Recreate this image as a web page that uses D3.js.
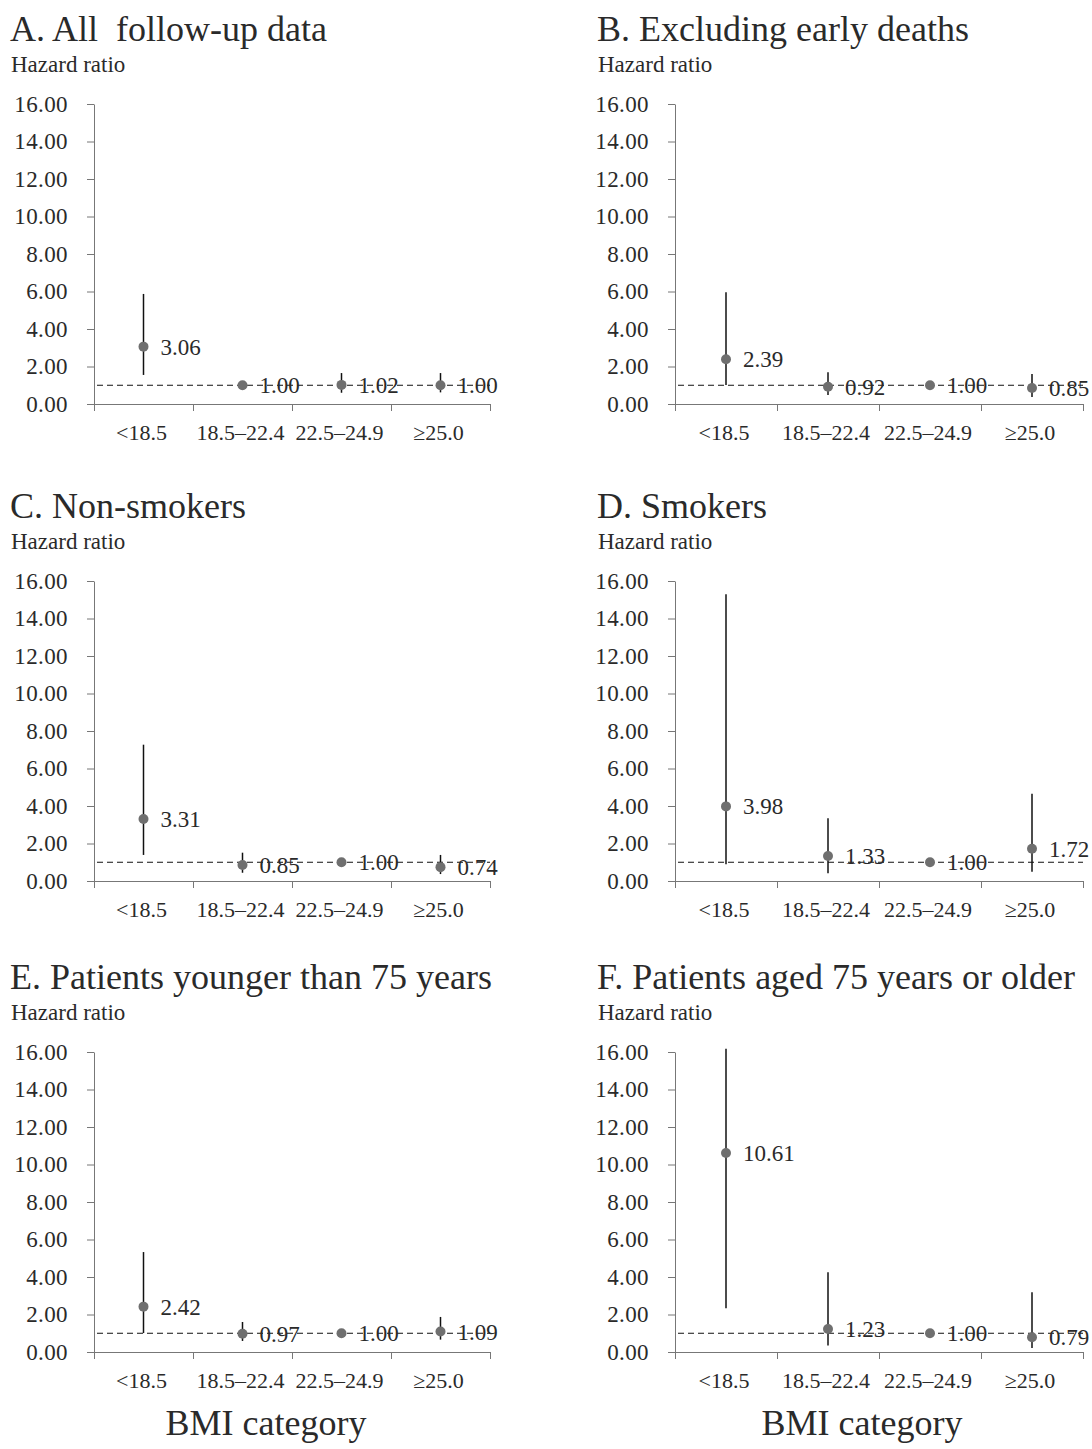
<!DOCTYPE html>
<html>
<head>
<meta charset="utf-8">
<script src="https://cdn.jsdelivr.net/npm/d3@7.9.0/dist/d3.min.js"></script>
<style>
  body { margin: 0; background: #fff; }
  svg { display: block; font-family: 'Liberation Serif', 'Times New Roman', serif; }
  .axis path, .axis line { stroke: #777; stroke-width: 1; }
  .axis text { fill: #2a2a2a; font-size: 23px; letter-spacing: 0.4px; font-family: 'Liberation Serif', serif; }
</style>
</head>
<body>
<svg id="chart" width="1092" height="1449"></svg>
<script>
const categories = ['<18.5', '18.5\u201322.4', '22.5\u201324.9', '\u226525.0'];
const yTicks = [0, 2, 4, 6, 8, 10, 12, 14, 16];

const titles = [
  'A. All  follow-up data',
  'B. Excluding early deaths',
  'C. Non-smokers',
  'D. Smokers',
  'E. Patients younger than 75 years',
  'F. Patients aged 75 years or older'
];

// hazard ratios and 95% CI per panel (null = reference, no bar)
const hrA = [3.06, 1.00, 1.02, 1.00];
const loA = [1.55, null, 0.60, 0.62];
const hiA = [5.87, null, 1.65, 1.65];

const hrB = [2.39, 0.92, 1.00, 0.85];
const loB = [1.01, 0.48, null, 0.37];
const hiB = [5.96, 1.70, null, 1.60];

const hrC = [3.31, 0.85, 1.00, 0.74];
const loC = [1.39, 0.44, null, 0.37];
const hiC = [7.27, 1.51, null, 1.39];

const hrD = [3.98, 1.33, 1.00, 1.72];
const loD = [0.89, 0.41, null, 0.50];
const hiD = [15.29, 3.35, null, 4.65];

const hrE = [2.42, 0.97, 1.00, 1.09];
const loE = [1.01, 0.59, null, 0.66];
const hiE = [5.33, 1.60, null, 1.87];

const hrF = [10.61, 1.23, 1.00, 0.79];
const loF = [2.34, 0.35, null, 0.21];
const hiF = [16.17, 4.26, null, 3.19];

const panels = [
  [hrA, loA, hiA], [hrB, loB, hiB],
  [hrC, loC, hiC], [hrD, loD, hiD],
  [hrE, loE, hiE], [hrF, loF, hiF]
];

const svg = d3.select('#chart');

// layout: two columns, three rows
const cols = [
  { textX: 10, axisX: 94, endX: 490, bmiX: 266 },
  { textX: 597, axisX: 675, endX: 1083, bmiX: 862 }
];
const rowTops = [0, 477, 948];

panels.forEach(([hr, lo, hi], i) => {
  const col = cols[i % 2];
  const top = rowTops[Math.floor(i / 2)];
  const g = svg.append('g');

  const y = d3.scaleLinear().domain([0, 16]).range([top + 404, top + 104]);
  const x = d3.scaleBand().domain(categories).range([col.axisX, col.endX]);
  const xTick = d3.scaleLinear().domain([0, categories.length]).range([col.axisX, col.endX]);

  // titles
  g.append('text')
    .attr('x', col.textX).attr('y', top + 41)
    .attr('font-size', 36).attr('fill', '#2a2a2a')
    .attr('xml:space', 'preserve')
    .text(titles[i]);
  g.append('text')
    .attr('x', col.textX + 1).attr('y', top + 72)
    .attr('font-size', 23).attr('fill', '#2a2a2a')
    .text('Hazard ratio');

  // y axis
  g.append('g')
    .attr('class', 'axis')
    .attr('transform', `translate(${col.axisX},0)`)
    .call(d3.axisLeft(y).tickValues(yTicks).tickFormat(d3.format('.2f')).tickSize(7).tickSizeOuter(0).tickPadding(19));

  // x axis (ticks at category boundaries)
  g.append('g')
    .attr('class', 'axis')
    .attr('transform', `translate(0,${y(0)})`)
    .call(d3.axisBottom(xTick).tickValues(d3.range(categories.length + 1)).tickFormat('').tickSize(7).tickSizeOuter(0));

  g.selectAll('.xlab')
    .data(categories)
    .join('text')
    .attr('class', 'xlab')
    .attr('x', d => x(d) + x.bandwidth() / 2 - 2)
    .attr('y', y(0) + 36)
    .attr('text-anchor', 'middle')
    .attr('font-size', 22).attr('fill', '#2a2a2a')
    .text(d => d);

  // reference line at HR = 1
  g.append('line')
    .attr('x1', col.axisX + 3).attr('x2', col.endX)
    .attr('y1', y(1)).attr('y2', y(1))
    .attr('stroke', '#111').attr('stroke-width', 1)
    .attr('stroke-dasharray', '6,4');

  const cx = d => x(d) + x.bandwidth() / 2;

  // confidence intervals
  categories.forEach((c, k) => {
    if (lo[k] == null) return;
    g.append('line')
      .attr('x1', cx(c)).attr('x2', cx(c))
      .attr('y1', y(lo[k])).attr('y2', y(hi[k]))
      .attr('stroke', '#111').attr('stroke-width', 1.5);
  });

  // points
  g.selectAll('.pt')
    .data(categories)
    .join('circle')
    .attr('class', 'pt')
    .attr('cx', cx)
    .attr('cy', (d, k) => y(hr[k]))
    .attr('r', 5)
    .attr('fill', '#6f6f6f');

  // value labels
  g.selectAll('.val')
    .data(categories)
    .join('text')
    .attr('class', 'val')
    .attr('x', d => cx(d) + 17)
    .attr('y', (d, k) => y(hr[k]))
    .attr('dy', '0.35em')
    .attr('font-size', 23).attr('fill', '#2a2a2a')
    .text((d, k) => hr[k].toFixed(2));

  // bottom row gets the x-axis title
  if (i >= 4) {
    g.append('text')
      .attr('x', col.bmiX)
      .attr('y', 1435)
      .attr('text-anchor', 'middle')
      .attr('font-size', 36).attr('fill', '#2a2a2a')
      .text('BMI category');
  }
});
</script>
</body>
</html>
